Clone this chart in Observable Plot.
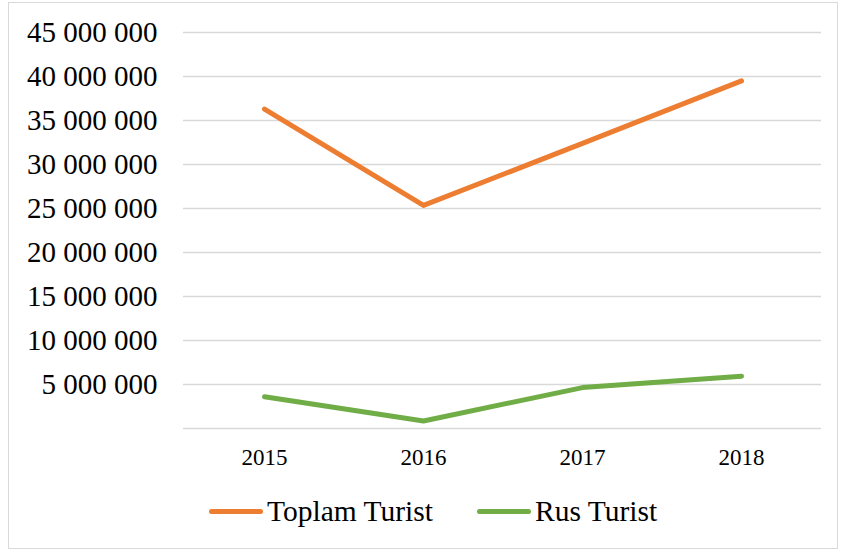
<!DOCTYPE html>
<html>
<head>
<meta charset="utf-8">
<script src="https://cdn.jsdelivr.net/npm/d3@7"></script>
<script src="https://cdn.jsdelivr.net/npm/@observablehq/plot@0.6"></script>
<style>
  body { margin: 0; background: #fff; }
  #wrap { position: relative; width: 842px; height: 551px; overflow: hidden; background: #fff;
          font-family: "Liberation Serif", "Times New Roman", serif; color: #000; }
  #frame { position: absolute; left: 8px; top: 2px; width: 828px; height: 545px; border: 1.5px solid #d9d9d9; }
  #chart { position: absolute; left: 0; top: 0; }
  #chart text { font-family: "Liberation Serif", "Times New Roman", serif; }
  .sw { position: absolute; height: 5px; border-radius: 3px; }
  .lt { position: absolute; font-size: 29.5px; line-height: 1; white-space: nowrap; }
</style>
</head>
<body>
<div id="wrap">
  <div id="frame"></div>
  <div id="chart"></div>
  <div id="legend"></div>
</div>
<script>
const years = ["2015", "2016", "2017", "2018"];
const seriesNames = ["Toplam Turist", "Rus Turist"];
const seriesColors = ["#ED7D31", "#70AD47"];
const toplamTurist = [36300000, 25350000, 32400000, 39500000];
const rusTurist = [3600000, 860000, 4650000, 5950000];
const yTickValues = [0, 5000000, 10000000, 15000000, 20000000, 25000000, 30000000, 35000000, 40000000, 45000000];

const rows = [];
years.forEach((y, i) => rows.push({year: y, value: toplamTurist[i], series: seriesNames[0]}));
years.forEach((y, i) => rows.push({year: y, value: rusTurist[i], series: seriesNames[1]}));

const fmt = d => d3.format(",")(d).replace(/,/g, " ");
const serif = '"Liberation Serif", "Times New Roman", serif';

const chart = Plot.plot({
  width: 842,
  height: 470,
  marginLeft: 183,
  marginRight: 21,
  marginTop: 32,
  marginBottom: 42,
  style: { fontFamily: serif, background: "transparent", color: "#000", overflow: "visible" },
  x: { type: "point", domain: years, padding: 0.5, label: null },
  y: { domain: [0, 45000000], label: null },
  color: { domain: seriesNames, range: seriesColors },
  marks: [
    Plot.ruleY(yTickValues, { stroke: "#d9d9d9", strokeWidth: 1.5 }),
    Plot.axisY(yTickValues.filter(d => d > 0), { tickSize: 0, tickPadding: 26, fontSize: 29, fontFamily: serif, tickFormat: fmt, label: null }),
    Plot.axisX({ tickSize: 0, tickPadding: 20, fontSize: 23, fontFamily: serif, label: null }),
    Plot.line(rows, { x: "year", y: "value", z: "series", stroke: "series", strokeWidth: 5, strokeLinecap: "round", strokeLinejoin: "round" })
  ]
});
document.getElementById("chart").appendChild(chart);

// legend
const legend = document.getElementById("legend");
const legendX = [209, 477];
seriesNames.forEach((name, i) => {
  const sw = document.createElement("div");
  sw.className = "sw";
  sw.style.left = legendX[i] + "px";
  sw.style.top = "508.5px";
  sw.style.width = "54px";
  sw.style.background = seriesColors[i];
  legend.appendChild(sw);
  const t = document.createElement("div");
  t.className = "lt";
  t.style.left = (legendX[i] + 58) + "px";
  t.style.top = "497px";
  t.textContent = name;
  legend.appendChild(t);
});
</script>
</body>
</html>
